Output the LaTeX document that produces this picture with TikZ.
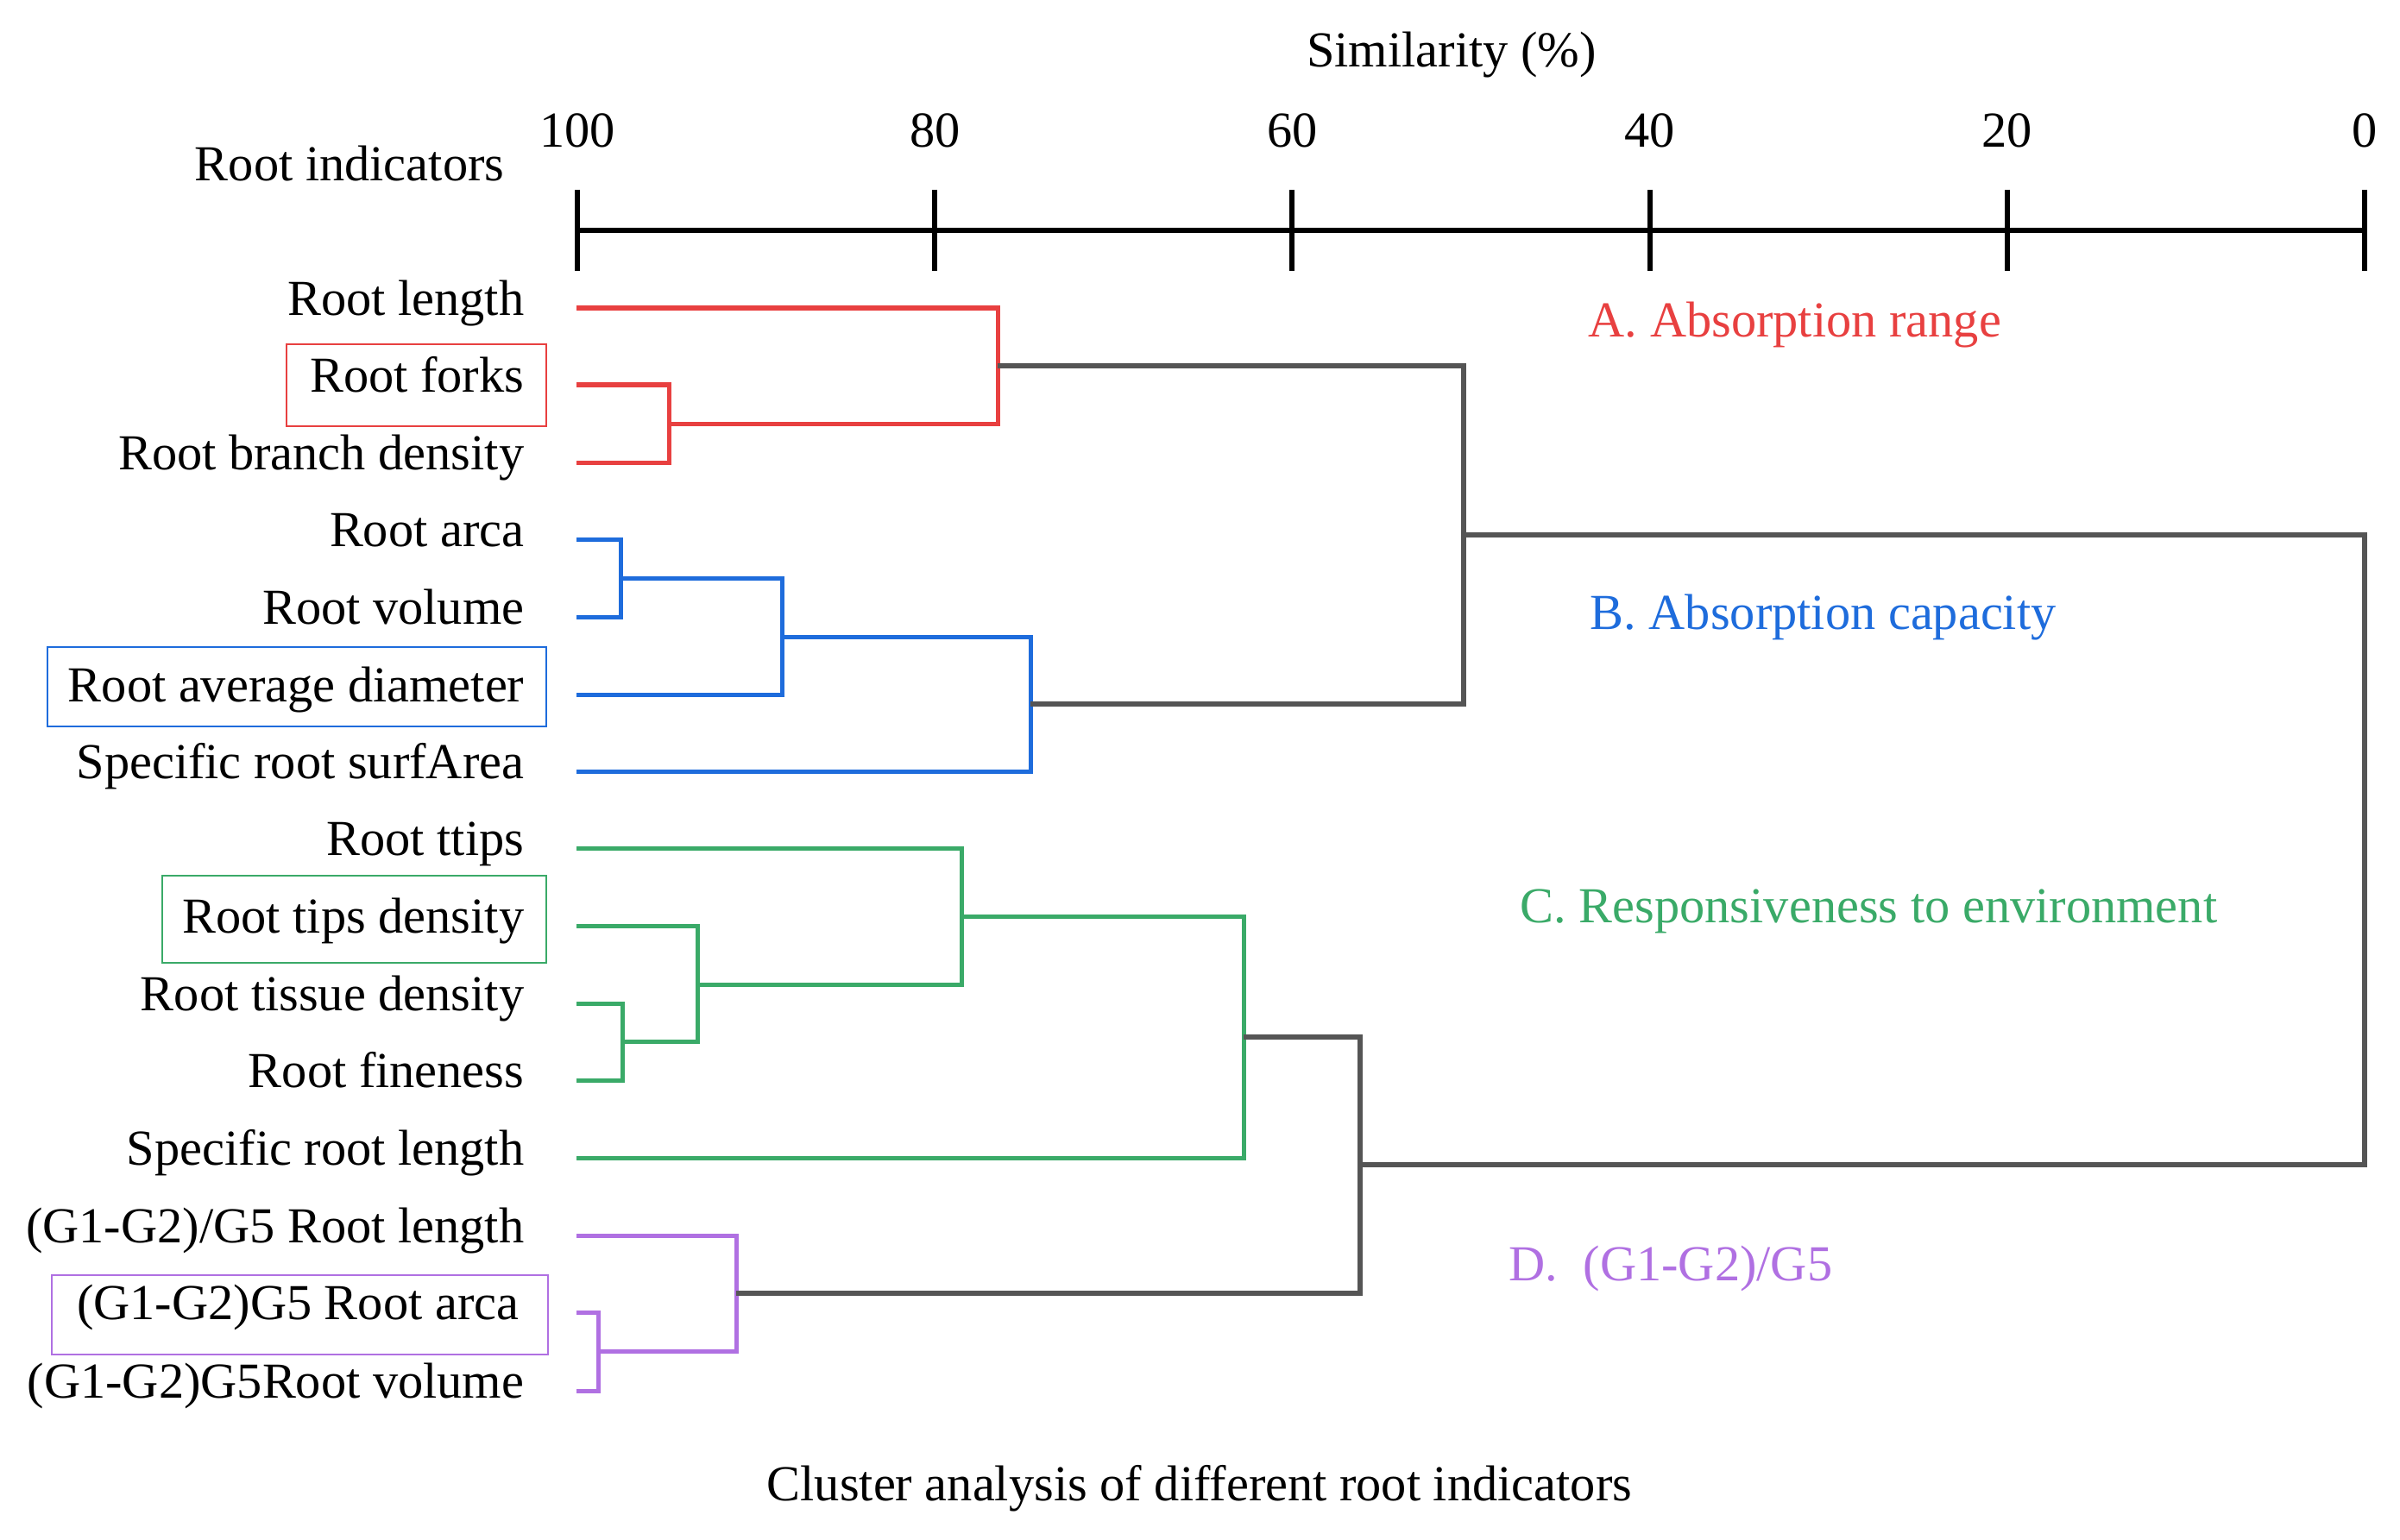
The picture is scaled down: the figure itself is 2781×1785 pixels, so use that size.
\documentclass[tikz,border=0pt]{standalone}
\usepackage{fontspec}
\setmainfont{Liberation Serif}
\definecolor{redc}{RGB}{232,64,64}
\definecolor{bluec}{RGB}{30,108,220}
\definecolor{greenc}{RGB}{58,170,104}
\definecolor{purplec}{RGB}{176,112,226}
\definecolor{grayc}{RGB}{85,85,85}
\begin{document}
\begin{tikzpicture}[x=0.01cm,y=-0.01cm,
  txt/.style={inner sep=0pt,font=\fontsize{16.6}{20}\selectfont},
  leaf/.style={txt,anchor=base east},
  ticklab/.style={txt,anchor=base},
  den/.style={line width=0.05cm},
  link/.style={line width=0.055cm,grayc},
  hbox/.style={line width=0.02cm},
  axisline/.style={line width=0.06cm,black}]
\useasboundingbox (0,0) rectangle (2781,1785);

% titles
\node[txt,anchor=base] (sim) at (1682,78) {Similarity (\%)};
\node[txt,anchor=base east] (ri) at (585,209) {Root indicators};

% axis
\coordinate (ax0) at (669,267);
\coordinate (ax1) at (2740,267);
\draw[axisline] (ax0) -- (ax1);
\foreach \v [count=\i from 0] in {100,80,60,40,20,0}{
  \pgfmathsetmacro{\xx}{669+414.2*\i}
  \coordinate (tt\i) at (\xx,220);
  \coordinate (tb\i) at (\xx,314);
  \draw[axisline] (tt\i) -- (tb\i);
  \node[ticklab] (tl\i) at (\xx,171) {\v};
}

% leaves
\foreach \n/\y/\lab in {
  1/357/Root length,
  2/446/Root forks,
  3/536/Root branch density,
  4/625/Root arca,
  5/715/Root volume,
  6/805/Root average diameter,
  7/894/Specific root surfArea,
  8/983/Root ttips,
  9/1073/Root tips density,
  10/1163/Root tissue density,
  11/1252/Root fineness,
  12/1342/Specific root length,
  15/1612/(G1-G2)G5Root volume}{
  \coordinate (l\n) at (668,\y);
  \node[leaf] (t\n) at (608,\y+8) {\lab};
}
\coordinate (l13) at (668,1432);
\node[leaf] (t13) at (608,1440) {(G1-G2)/G5 Root length};
\coordinate (l14) at (668,1521);
\node[leaf] (t14) at (602,1529) {(G1-G2)G5 Root arca};

% highlight boxes
\draw[hbox,redc] (332,399) rectangle (633,494);
\draw[hbox,bluec] (55,750) rectangle (633,842);
\draw[hbox,greenc] (188,1015) rectangle (633,1116);
\draw[hbox,purplec] (60,1478) rectangle (635,1570);

% merge points
\coordinate (m23) at (775,491);
\coordinate (mA) at (1156,424);
\coordinate (m45) at (719,670);
\coordinate (m456) at (906,738);
\coordinate (mB) at (1194,816);
\coordinate (mAB) at (1696,620);
\coordinate (m1011) at (721,1207.5);
\coordinate (m9) at (808,1141);
\coordinate (m8) at (1114,1062);
\coordinate (mC) at (1441,1202);
\coordinate (m1415) at (693,1566);
\coordinate (mD) at (853,1499);
\coordinate (mCD) at (1576,1350);
\coordinate (mR) at (2740,985);

% cluster A
\draw[den,redc] (l2) -| (m23) |- (l3);
\draw[den,redc] (l1) -| (mA) |- (m23);
% cluster B
\draw[den,bluec] (l4) -| (m45) |- (l5);
\draw[den,bluec] (m45) -| (m456) |- (l6);
\draw[den,bluec] (m456) -| (mB) |- (l7);
% cluster C
\draw[den,greenc] (l10) -| (m1011) |- (l11);
\draw[den,greenc] (l9) -| (m9) |- (m1011);
\draw[den,greenc] (l8) -| (m8) |- (m9);
\draw[den,greenc] (m8) -| (mC) |- (l12);
% cluster D
\draw[den,purplec] (l14) -| (m1415) |- (l15);
\draw[den,purplec] (l13) -| (mD) |- (m1415);
% gray links
\draw[link] (mA) -| (mAB) |- (mB);
\draw[link] (mC) -| (mCD) |- (mD);
\draw[link] (mAB) -| (mR) |- (mCD);

% cluster labels
\node[txt,anchor=base west,text=redc] (labA) at (1840,390) {A. Absorption range};
\node[txt,anchor=base west,text=bluec] (labB) at (1842,729) {B. Absorption capacity};
\node[txt,anchor=base west,text=greenc] (labC) at (1761,1069) {C. Responsiveness to environment};
\node[txt,anchor=base west,text=purplec] (labD) at (1748,1484) {D.\ \ (G1-G2)/G5};

% caption
\node[txt,anchor=base west] (cap) at (888,1739) {Cluster analysis of different root indicators};
\end{tikzpicture}
\end{document}
